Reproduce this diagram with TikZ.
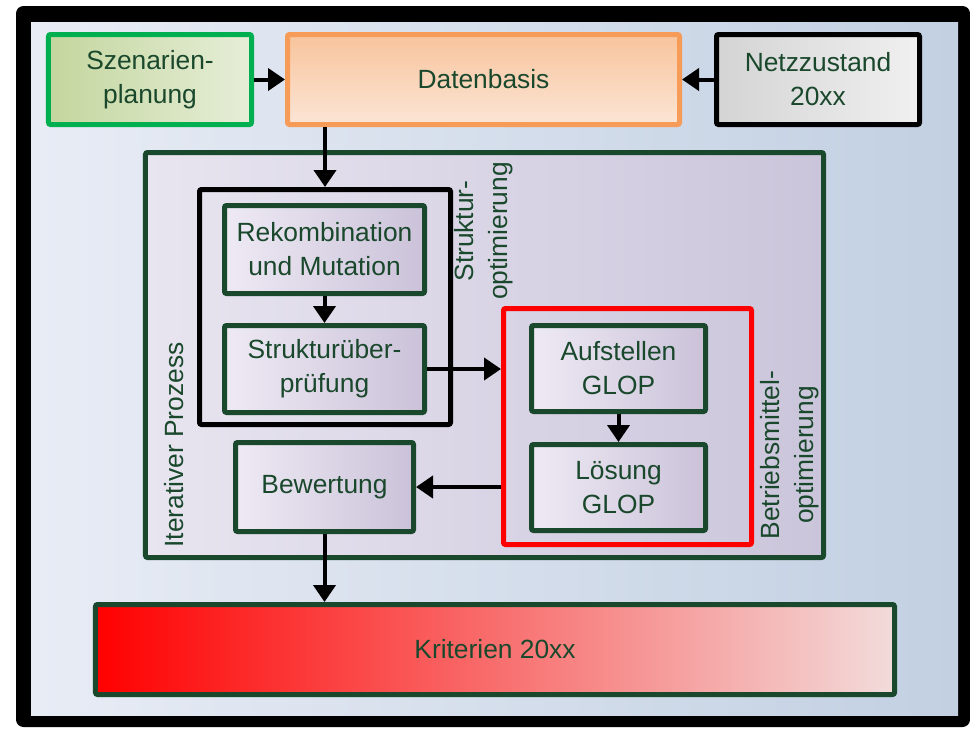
\documentclass[tikz,border=0pt]{standalone}
\usepackage{fontspec}
\setmainfont{Liberation Sans}
\usetikzlibrary{arrows.meta}

\definecolor{dkgreen}{RGB}{26,72,44}
\definecolor{szgreen}{RGB}{0,176,80}
\definecolor{dborange}{RGB}{247,155,88}
\definecolor{bgL}{RGB}{232,236,245}
\definecolor{bgR}{RGB}{194,208,226}
\definecolor{lilaL}{RGB}{238,234,244}
\definecolor{lilaR}{RGB}{203,194,217}

\tikzset{
    box/.style={draw=dkgreen, line width=1mm, rounded corners=0.4mm, text=dkgreen,
        align=center, inner sep=0pt, font=\fontsize{15}{19.4}\selectfont},
    lilabox/.style={box, left color=lilaL, right color=lilaR},
    frame/.style={draw, line width=1mm, rounded corners=0.4mm, inner sep=0pt},
    sidelabel/.style={text=dkgreen, align=center, inner sep=0pt, rotate=90,
        font=\fontsize{15}{19.4}\selectfont},
    arr/.style={-{Triangle[length=3.4mm,width=4.4mm]}, line width=0.8mm},
}

\begin{document}
\begin{tikzpicture}[x=0.2mm, y=-0.2mm]
    \useasboundingbox (0,0) rectangle (970,728);

    % black frame and light background
    \fill[black, rounded corners=1.5mm] (16,6) rectangle (970,727);
    \shade[left color=bgL, right color=bgR] (31,22) rectangle (958,715);

    % top row
    \node[box, draw=szgreen, left color={rgb,255:red,196;green,214;blue,158}, right color={rgb,255:red,230;green,238;blue,216},
        minimum width=40.6mm, minimum height=18mm] (szen) at (150,79.5) {Szenarien-\\planung};
    \node[box, draw=dborange, top color={rgb,255:red,248;green,196;blue,156}, bottom color={rgb,255:red,251;green,229;blue,214},
        minimum width=78.4mm, minimum height=18mm] (daten) at (483.5,79.5) {Datenbasis};
    \node[box, draw=black, left color={rgb,255:red,212;green,212;blue,212}, right color={rgb,255:red,240;green,240;blue,240},
        minimum width=40.6mm, minimum height=18mm] (netz) at (818,79.5) {Netzzustand\\20xx};

    % iterative loop
    \node[box, left color={rgb,255:red,232;green,229;blue,240}, right color={rgb,255:red,203;green,197;blue,219},
        minimum width=135.6mm, minimum height=81mm] (iter) at (484.5,355) {};
    \node[frame, draw=black, minimum width=50.2mm, minimum height=47mm] (struk) at (325,307) {};
    \node[frame, draw=red, minimum width=49.6mm, minimum height=47.2mm] (betr) at (627.5,426.5) {};

    \node[lilabox, minimum width=40mm, minimum height=17.6mm] (rekomb) at (324.5,249.5) {Rekombination\\und Mutation};
    \node[lilabox, minimum width=40mm, minimum height=17.4mm] (pruef) at (324.5,369) {Strukturüber-\\prüfung};
    \node[lilabox, minimum width=34.8mm, minimum height=17.2mm] (aufst) at (618.5,368.5) {Aufstellen\\GLOP};
    \node[lilabox, minimum width=34.8mm, minimum height=17.2mm] (loes) at (618.5,487.5) {Lösung\\GLOP};
    \node[lilabox, minimum width=35.6mm, minimum height=17.8mm] (bew) at (324.5,487) {Bewertung};

    \node[sidelabel] (struklbl) at (484,231) {Struktur-\\optimierung};
    \node[sidelabel] (betrlbl) at (789.5,455) {Betriebsmittel-\\optimierung};
    \node[sidelabel] (iterlbl) at (174,445) {Iterativer Prozess};

    % result
    \node[box, left color=red, right color={rgb,255:red,242;green,220;blue,219},
        minimum width=159.8mm, minimum height=18mm] (krit) at (495,649.5) {Kriterien 20xx};

    % connectors
    \draw[arr] (szen.east) -- (daten.west);
    \draw[arr] (netz.west) -- (daten.east);
    \draw[arr] (daten.south -| struk.north) -- (struk.north);
    \draw[arr] (rekomb.south) -- (pruef.north);
    \draw[arr] (pruef.east) -- (pruef.east -| betr.west);
    \draw[arr] (aufst.south) -- (loes.north);
    \draw[arr] (bew.east -| betr.west) -- (bew.east);
    \draw[arr] (bew.south) -- (bew.south |- krit.north);
\end{tikzpicture}
\end{document}
